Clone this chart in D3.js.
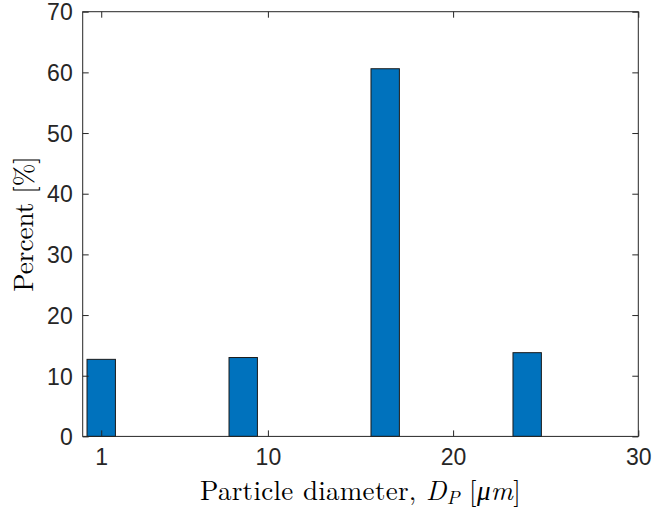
<!DOCTYPE html>
<html>
<head>
<meta charset="utf-8">
<script src="https://cdn.jsdelivr.net/npm/d3@7"></script>
<style>
  html, body { margin: 0; padding: 0; background: #fff; }
  svg { display: block; }
</style>
</head>
<body>
<svg id="chart" width="653" height="510"></svg>
<script>
// Bin centres (µm) and share of particles in each bin (%)
const binCenters = [1, 4.833, 8.667, 12.5, 16.333, 20.167, 24];
const percents   = [12.7, 0, 13.0, 0, 60.6, 0, 13.8];
const xTicks = [1, 10, 20, 30];
const yTicks = [0, 10, 20, 30, 40, 50, 60, 70];
const barWidthFraction = 0.4;

const W = 653, H = 510;
const margin = { left: 82.7, right: W - 638.3, top: 11.7, bottom: H - 436.4 };
const iw = W - margin.left - margin.right;
const ih = H - margin.top - margin.bottom;

const svg = d3.select("#chart");
const g = svg.append("g").attr("transform", `translate(${margin.left},${margin.top})`);

const x = d3.scaleLinear().domain([0, 30]).range([0, iw]);
const y = d3.scaleLinear().domain([0, 70]).range([ih, 0]);

const spacing = binCenters[1] - binCenters[0];
const bw = x(spacing * barWidthFraction) - x(0);

// bars
g.selectAll("rect.bar")
  .data(binCenters.map((c, i) => ({ c, v: percents[i] })))
  .join("rect")
  .attr("class", "bar")
  .attr("x", d => x(d.c) - bw / 2)
  .attr("y", d => y(d.v))
  .attr("width", bw)
  .attr("height", d => y(0) - y(d.v))
  .attr("fill", "#0072BD")
  .attr("stroke", "#1a1a1a")
  .attr("stroke-width", 1);

const axisColor = "#262626";
const tickFont = "'Liberation Sans', Arial, Helvetica, sans-serif";
const tickLen = 6;

// box
g.append("rect")
  .attr("x", 0).attr("y", 0).attr("width", iw).attr("height", ih)
  .attr("fill", "none").attr("stroke", axisColor).attr("stroke-width", 1);

// inward ticks, bottom/top and left/right
const xAxisBottom = g.append("g").attr("transform", `translate(0,${ih})`)
  .call(d3.axisBottom(x).tickValues(xTicks).tickSizeInner(-tickLen).tickSizeOuter(0).tickPadding(12));
const xAxisTop = g.append("g")
  .call(d3.axisTop(x).tickValues(xTicks).tickSizeInner(-tickLen).tickSizeOuter(0).tickFormat(""));
const yAxisLeft = g.append("g")
  .call(d3.axisLeft(y).tickValues(yTicks).tickSizeInner(-tickLen).tickSizeOuter(0).tickPadding(10));
const yAxisRight = g.append("g").attr("transform", `translate(${iw},0)`)
  .call(d3.axisRight(y).tickValues(yTicks).tickSizeInner(-tickLen).tickSizeOuter(0).tickFormat(""));

[xAxisBottom, xAxisTop, yAxisLeft, yAxisRight].forEach(a => {
  a.select(".domain").remove();
  a.selectAll(".tick line").attr("stroke", axisColor).attr("stroke-width", 1);
  a.selectAll(".tick text")
    .attr("fill", axisColor)
    .style("font-family", tickFont)
    .style("font-size", "23px");
});
xAxisBottom.selectAll(".tick text").attr("dy", "0.71em");
yAxisLeft.selectAll(".tick text").attr("dy", "0.36em");

// axis titles
const serif = "'Latin Modern Roman', 'CMU Serif', 'Liberation Serif', 'Times New Roman', serif";

const xl = svg.append("text")
  .attr("x", margin.left + iw / 2)
  .attr("y", 500)
  .attr("text-anchor", "middle")
  .attr("fill", "#000")
  .style("font-family", serif)
  .style("font-size", "27px")
  .style("letter-spacing", "0.3px");
xl.append("tspan").text("Particle diameter, ");
xl.append("tspan").attr("font-style", "italic").text("D");
xl.append("tspan").attr("font-style", "italic").attr("font-size", "19px").attr("dy", 4).text("P");
xl.append("tspan").attr("dy", -4).text(" [");
xl.append("tspan").attr("font-style", "italic").text("μm");
xl.append("tspan").text("]");

svg.append("text")
  .attr("transform", `translate(33,${margin.top + ih / 2}) rotate(-90)`)
  .attr("text-anchor", "middle")
  .attr("fill", "#000")
  .style("font-family", serif)
  .style("font-size", "27px")
  .text("Percent [%]");
</script>
</body>
</html>
